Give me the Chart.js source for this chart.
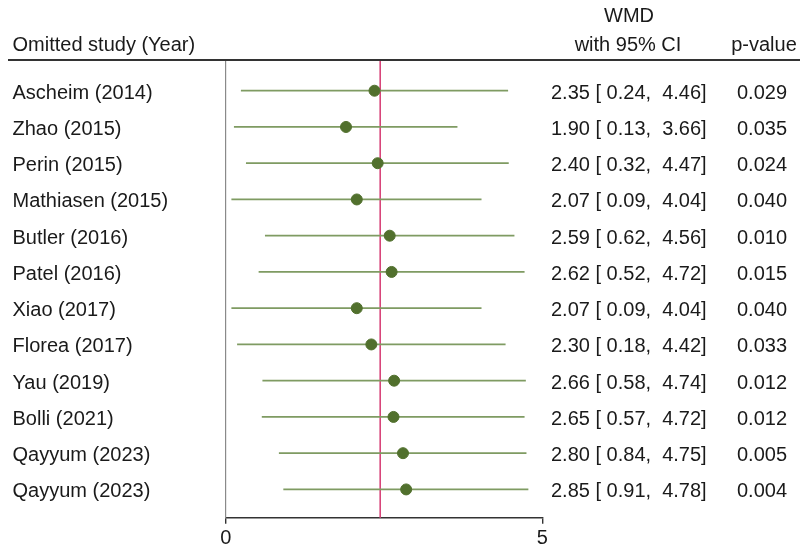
<!DOCTYPE html>
<html>
<head>
<meta charset="utf-8">
<script src="https://cdn.jsdelivr.net/npm/chart.js@4/dist/chart.umd.min.js"></script>
<style>
  html, body { margin: 0; padding: 0; background: #fff; }
  #wrap { width: 800px; height: 550px; position: relative; }
</style>
</head>
<body>
<div id="wrap"><canvas id="c" width="800" height="550"></canvas></div>
<script>
// ---- data ----
const studies = ["Ascheim (2014)", "Zhao (2015)", "Perin (2015)", "Mathiasen (2015)", "Butler (2016)", "Patel (2016)",
                 "Xiao (2017)", "Florea (2017)", "Yau (2019)", "Bolli (2021)", "Qayyum (2023)", "Qayyum (2023)"];
const wmd   = [2.35, 1.90, 2.40, 2.07, 2.59, 2.62, 2.07, 2.30, 2.66, 2.65, 2.80, 2.85];
const lower = [0.24, 0.13, 0.32, 0.09, 0.62, 0.52, 0.09, 0.18, 0.58, 0.57, 0.84, 0.91];
const upper = [4.46, 3.66, 4.47, 4.04, 4.56, 4.72, 4.04, 4.42, 4.74, 4.72, 4.75, 4.78];
const pvals = ["0.029", "0.035", "0.024", "0.040", "0.010", "0.015", "0.040", "0.033", "0.012", "0.012", "0.005", "0.004"];
const overall = [2.44];
const xTicks = [0, 5];

// ---- build datasets ----
const ciData = [];
studies.forEach((s, i) => {
  ciData.push({x: lower[i], y: i + 1});
  ciData.push({x: upper[i], y: i + 1});
  ciData.push({x: null, y: null});
});
const ptData = wmd.map((v, i) => ({x: v, y: i + 1}));

const FONT = '"Liberation Sans", Arial, Helvetica, sans-serif';
const FS = 20;

function fmt(v, w) { let s = v.toFixed(2); while (s.length < w) s = ' ' + s; return s; }

const textPlugin = {
  id: 'forestText',
  beforeDatasetsDraw(chart) {
    const ctx = chart.ctx, xs = chart.scales.x, ca = chart.chartArea;
    ctx.save();
    ctx.strokeStyle = '#d8457a';
    ctx.lineWidth = 1.6;
    const px = xs.getPixelForValue(overall[0]);
    ctx.beginPath(); ctx.moveTo(px, ca.top); ctx.lineTo(px, ca.bottom); ctx.stroke();
    ctx.restore();
  },
  afterDraw(chart) {
    const ctx = chart.ctx, ys = chart.scales.y;
    ctx.save();
    ctx.fillStyle = '#1a1a1a';
    ctx.font = FS + 'px ' + FONT;
    // header
    ctx.textBaseline = 'alphabetic';
    ctx.textAlign = 'left';
    ctx.fillText('Omitted study (Year)', 12.5, 51);
    ctx.textAlign = 'center';
    ctx.fillText('WMD', 629, 22);
    ctx.fillText('with 95% CI', 628, 51);
    ctx.fillText('p-value', 764, 51);
    // header rule
    ctx.strokeStyle = '#333';
    ctx.lineWidth = 2;
    ctx.beginPath(); ctx.moveTo(8, 60); ctx.lineTo(800, 60); ctx.stroke();
    // rows
    studies.forEach((s, i) => {
      const y = ys.getPixelForValue(i + 1) + 8;
      ctx.textAlign = 'left';
      ctx.fillText(s, 12.5, y);
      ctx.fillText(wmd[i].toFixed(2) + ' [' + fmt(lower[i], 5) + ', ' + fmt(upper[i], 5) + ']', 551, y);
      ctx.textAlign = 'center';
      ctx.fillText(pvals[i], 762, y);
    });
    ctx.restore();
  }
};

new Chart(document.getElementById('c'), {
  type: 'line',
  data: {
    datasets: [
      { data: ciData, borderColor: '#7f9b62', borderWidth: 1.8, pointRadius: 0, spanGaps: false, order: 2 },
      { type: 'scatter', data: ptData, backgroundColor: '#51702d', borderColor: '#51702d', pointRadius: 5.5, order: 1 }
    ]
  },
  options: {
    responsive: false,
    animation: false,
    events: [],
    layout: { padding: { left: 225.7, right: 257.7, top: 61, bottom: 0 } },
    plugins: { legend: { display: false }, tooltip: { enabled: false } },
    scales: {
      x: {
        type: 'linear', min: 0, max: 5,
        afterBuildTicks(s) { s.ticks = xTicks.map(v => ({value: v})); },
        afterFit(s) { s.height = 32.3; },
        grid: { display: true, drawOnChartArea: false, drawTicks: true, tickLength: 6, color: '#333', lineWidth: 1.4 },
        border: { display: true, color: '#333', width: 1.4 },
        ticks: { color: '#1a1a1a', font: { family: FONT, size: FS }, padding: 3, maxRotation: 0 }
      },
      y: {
        type: 'linear', min: 0.18, max: 12.78, reverse: true,
        afterFit(s) { s.width = 0; },
        grid: { display: false },
        border: { display: true, color: '#8a8a8a', width: 1.2 },
        ticks: { display: false }
      }
    }
  },
  plugins: [textPlugin]
});
</script>
</body>
</html>
